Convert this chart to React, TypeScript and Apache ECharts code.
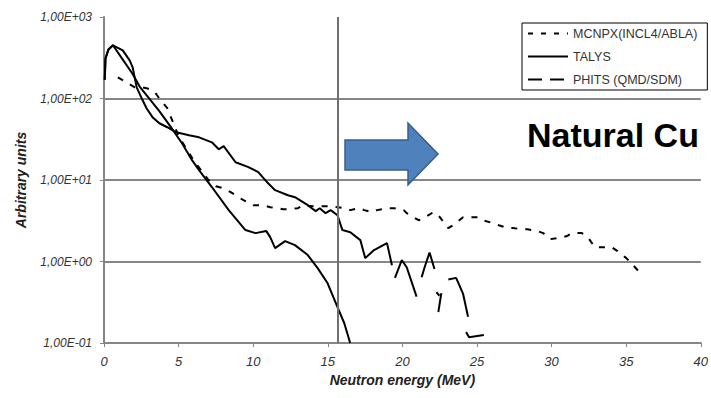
import React, { useEffect, useRef } from "react";
import * as echarts from "echarts";

// ---------- data ----------
const xTicks = [0, 5, 10, 15, 20, 25, 30, 35, 40];
const yTickValues = [0.1, 1, 10, 100, 1000];
const yTickLabels = ["1,00E-01", "1,00E+00", "1,00E+01", "1,00E+02", "1,00E+03"];

const seriesNames = ["MCNPX(INCL4/ABLA)", "TALYS", "PHITS (QMD/SDM)"];

const mcnpxE = [0.93, 1.39, 2.06, 2.59, 2.92, 3.38, 3.71, 4.24, 5.0, 6.0, 7.0, 7.5, 8.02, 8.49, 9.02, 9.35, 10.01, 10.68, 11.14, 12.0, 12.33, 13.0, 13.33, 13.99, 15.12, 16.11, 16.51, 17.1, 17.44, 17.97, 18.3, 18.97, 19.43, 20.09, 20.29, 21.09, 21.42, 22.08, 22.41, 23.08, 23.41, 24.07, 24.4, 25.07, 25.4, 26.06, 26.46, 27.06, 27.39, 28.05, 28.38, 29.05, 29.44, 29.91, 30.44, 31.03, 31.37, 32.03, 32.43, 32.89, 33.36, 34.02, 34.42, 35.01, 35.35, 35.94];
const mcnpxV = [182, 162, 137, 137, 133, 122, 100, 76, 34.5, 17.5, 10, 8.4, 7.9, 7.1, 6.15, 5.65, 4.91, 4.91, 4.64, 4.39, 4.39, 4.51, 4.91, 4.78, 4.78, 4.51, 4.27, 4.51, 4.27, 4.03, 4.27, 4.51, 4.51, 4.27, 3.92, 3.21, 3.4, 4.03, 3.7, 2.57, 2.79, 3.5, 3.5, 3.5, 3.21, 2.96, 2.79, 2.57, 2.57, 2.49, 2.49, 2.36, 2.23, 1.88, 1.94, 2.05, 2.23, 2.23, 1.99, 1.5, 1.5, 1.5, 1.34, 1.1, 0.956, 0.72];

const talysE = [0.05, 0.1, 0.3, 0.6, 1.26, 1.92, 2.39, 3.71, 4.58, 5.24, 5.9, 6.37, 7.23, 8.36, 9.48, 10.15, 10.88, 11.14, 11.47, 12.14, 12.8, 13.66, 14.32, 14.99, 15.65, 16.1, 16.5];
const talysV = [170, 310, 400, 450, 300, 200, 140, 70, 42, 28, 17.5, 13.2, 8.2, 4.27, 2.43, 2.23, 2.36, 1.99, 1.46, 1.78, 1.59, 1.2, 0.83, 0.54, 0.276, 0.176, 0.1];

const phitsE = [0.05, 0.1, 0.3, 0.6, 1.26, 1.72, 1.92, 2.19, 2.59, 2.85, 3.25, 3.71, 4.24, 4.84, 5.7, 6.37, 7.23, 7.69, 8.02, 8.82, 9.68, 10.34, 11.0, 11.47, 12.33, 12.8, 13.66, 14.19, 14.46, 14.85, 15.19, 15.65, 15.98, 16.51, 17.18, 17.51, 18.1, 18.97, 19.3];
const phitsV = [170, 310, 400, 450, 389, 294, 241, 137, 95, 76, 59, 49.7, 44.4, 38.5, 35.4, 33.4, 29, 23.8, 26, 16.5, 14.4, 12.5, 9.1, 7.5, 6.5, 6.15, 4.91, 4.15, 4.51, 3.92, 4.27, 3.7, 2.43, 2.29, 1.83, 1.1, 1.38, 1.68, 0.9];
// broken pieces of the PHITS curve above ~19 MeV (E, value)
const phitsPiece2 = [[19.5, 0.63], [19.96, 1.04], [20.29, 0.85], [20.95, 0.37]];
const phitsPiece3 = [[21.29, 0.64], [21.49, 0.85], [21.82, 1.29], [22.15, 0.81]];
const phitsPiece4 = [[22.28, 0.42], [22.48, 0.38]];
const phitsPiece5 = [[22.61, 0.41], [22.41, 0.24]];
const phitsPiece6 = [[23.08, 0.6], [23.6, 0.63], [24.07, 0.4], [24.4, 0.21]];
const phitsPiece7 = [[24.27, 0.136], [24.47, 0.118], [25.46, 0.125]];

const markerEnergy = 15.65;

const FONT = "'Liberation Sans', Arial, sans-serif";

function zip(xs: number[], ys: number[]) {
  return xs.map((x, i) => [x, ys[i]]);
}

export default function App() {
  const ref = useRef<HTMLDivElement>(null);
  useEffect(() => {
    if (!ref.current) return;
    const chart = echarts.init(ref.current, null, { renderer: "svg" });
    const black = "#000";
    const lineBase = { color: black, width: 2 };
    const hiddenSymbol = { color: "rgba(0,0,0,0)", borderWidth: 0, opacity: 0 };
    const phitsPieces = [phitsPiece2, phitsPiece3, phitsPiece4, phitsPiece5, phitsPiece6, phitsPiece7];
    const option: any = {
      animation: false,
      backgroundColor: "#fff",
      color: [black, black, black],
      grid: { left: 104, right: 4, top: 17, bottom: 55 },
      legend: {
        left: 522,
        top: 23,
        orient: "vertical",
        borderColor: "#000",
        borderWidth: 1,
        padding: [4, 10, 4, 5],
        itemGap: 10,
        itemWidth: 40,
        itemHeight: 12,
        textStyle: { fontSize: 12.5, color: "#333", fontFamily: FONT },
        data: [
          { name: seriesNames[0], itemStyle: hiddenSymbol, lineStyle: { type: [5, 8], width: 2, color: black } },
          { name: seriesNames[1], itemStyle: hiddenSymbol, lineStyle: { type: "solid", width: 2, color: black } },
          { name: seriesNames[2], itemStyle: hiddenSymbol, lineStyle: { type: [14, 8], width: 2, color: black } },
        ],
      },
      xAxis: {
        type: "value",
        min: xTicks[0],
        max: xTicks[xTicks.length - 1],
        interval: 5,
        name: "Neutron energy (MeV)",
        nameLocation: "middle",
        nameGap: 30,
        nameTextStyle: { fontSize: 14, fontStyle: "italic", fontWeight: "bold", color: "#222", fontFamily: FONT },
        axisLine: { lineStyle: { color: "#868686", width: 2 } },
        axisTick: { show: true, length: 4, lineStyle: { color: "#868686", width: 1 } },
        axisLabel: { fontSize: 13, fontStyle: "italic", color: "#333", margin: 12, fontFamily: FONT },
        splitLine: { show: false },
      },
      yAxis: {
        type: "log",
        logBase: 10,
        min: yTickValues[0],
        max: yTickValues[yTickValues.length - 1],
        name: "Arbitrary units",
        nameLocation: "middle",
        nameGap: 76,
        nameRotate: 90,
        nameTextStyle: { fontSize: 14, fontStyle: "italic", fontWeight: "bold", color: "#222", fontFamily: FONT },
        axisLine: { show: true, lineStyle: { color: "#868686", width: 2 } },
        axisTick: { show: true, length: 4, lineStyle: { color: "#868686", width: 1 } },
        axisLabel: {
          fontSize: 12,
          fontStyle: "italic",
          color: "#333",
          margin: 12,
          fontFamily: FONT,
          formatter: (v: number) => {
            const i = yTickValues.findIndex((t) => Math.abs(Math.log10(t) - Math.log10(v)) < 1e-6);
            return i >= 0 ? yTickLabels[i] : "";
          },
        },
        splitLine: { show: true, showMinLine: false, showMaxLine: false, lineStyle: { color: "#868686", width: 2 } },
      },
      series: [
        {
          name: seriesNames[0],
          type: "line",
          symbol: "none",
          itemStyle: { color: black },
          data: zip(mcnpxE, mcnpxV),
          lineStyle: { ...lineBase, type: [6, 8] },
          z: 3,
        },
        {
          name: seriesNames[1],
          type: "line",
          symbol: "none",
          itemStyle: { color: black },
          data: zip(talysE, talysV),
          lineStyle: { ...lineBase, type: "solid" },
          z: 3,
          markLine: {
            silent: true,
            symbol: "none",
            label: { show: false },
            lineStyle: { color: "#707070", width: 2, type: "solid" },
            data: [{ xAxis: markerEnergy }],
          },
        },
        {
          name: seriesNames[2],
          type: "line",
          symbol: "none",
          itemStyle: { color: black },
          data: zip(phitsE, phitsV),
          lineStyle: { ...lineBase, type: "solid" },
          z: 3,
        },
        ...phitsPieces.map((p) => ({
          name: seriesNames[2],
          type: "line",
          symbol: "none",
          itemStyle: { color: black },
          data: p,
          lineStyle: { ...lineBase, type: "solid" },
          z: 3,
        })),
      ],
      graphic: [
        {
          type: "polygon",
          shape: {
            points: [
              [345, 140],
              [408, 140],
              [408, 123],
              [438, 154],
              [408, 185],
              [408, 170],
              [345, 170],
            ],
          },
          style: { fill: "#4F81BD", stroke: "#385D8A", lineWidth: 1.5 },
          z: 10,
        },
        {
          type: "text",
          x: 527,
          y: 135,
          style: {
            text: "Natural Cu",
            font: `bold 34px ${FONT}`,
            fill: "#000",
            verticalAlign: "middle",
            align: "left",
          },
          z: 10,
        },
      ],
    };
    chart.setOption(option);
    return () => chart.dispose();
  }, []);
  return <div ref={ref} style={{ width: 711, height: 398, position: "absolute", left: 0, top: 0 }} />;
}
